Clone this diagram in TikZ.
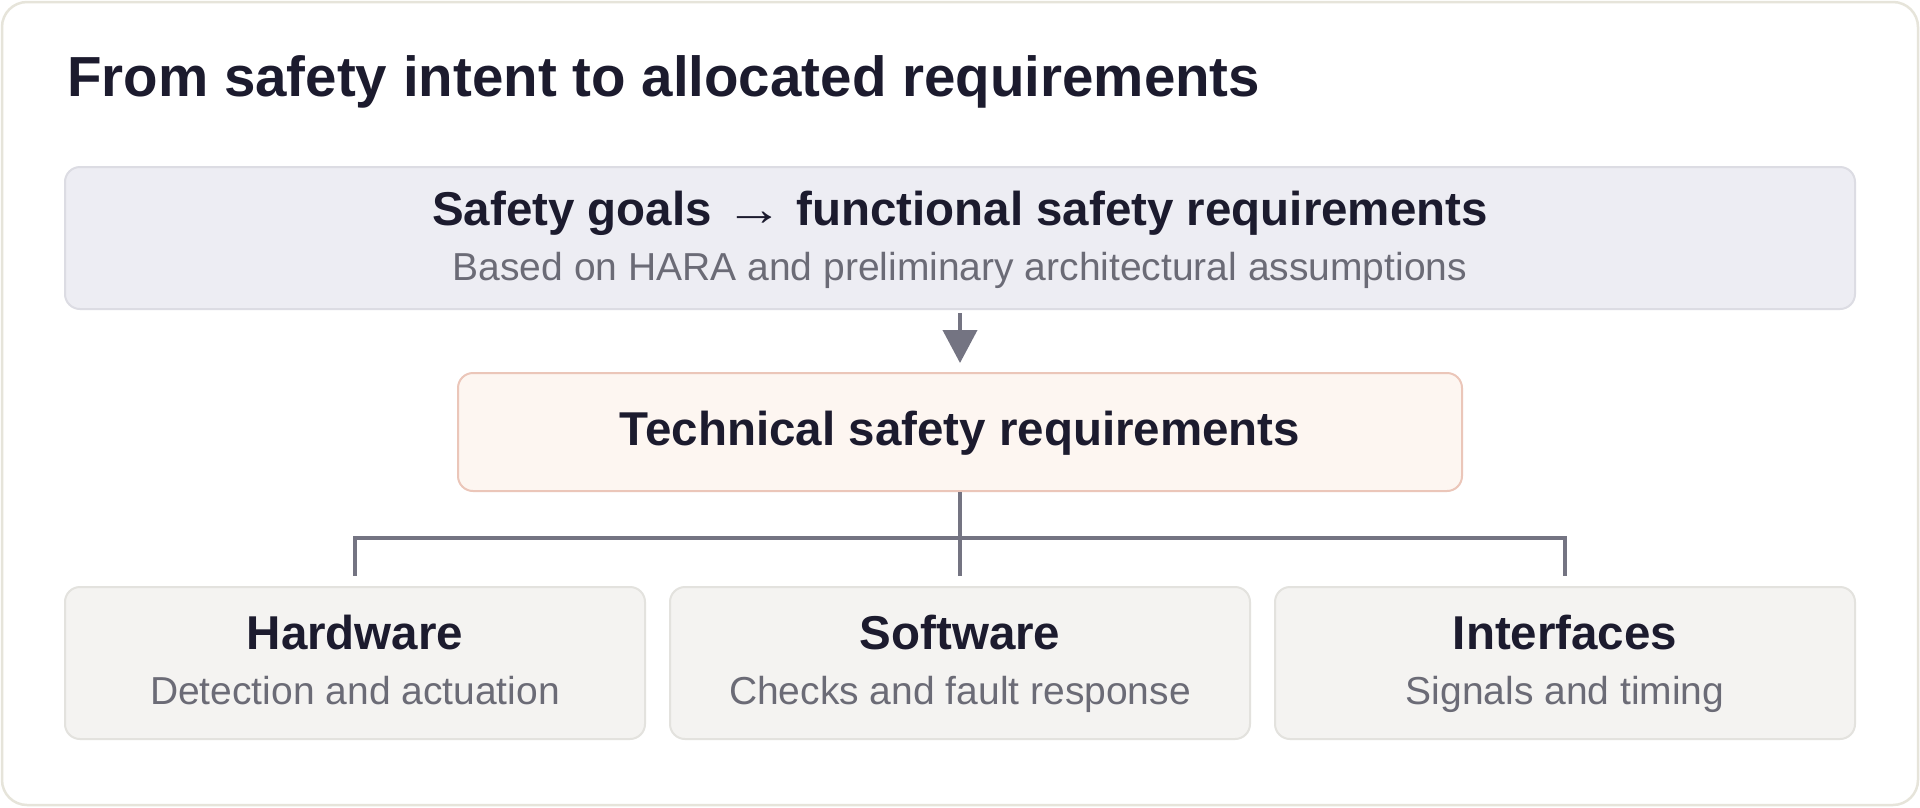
\documentclass[tikz,border=0pt]{standalone}
\usepackage{fontspec}
\setmainfont{Liberation Sans}
\usetikzlibrary{arrows.meta}
\definecolor{ink}{HTML}{1C1B2E}
\definecolor{sub}{HTML}{6B6B76}
\definecolor{frameB}{HTML}{E6E4DA}
\definecolor{topF}{HTML}{EDEDF3}
\definecolor{topB}{HTML}{DCDCE3}
\definecolor{midF}{HTML}{FDF6F1}
\definecolor{midB}{HTML}{EBC6B9}
\definecolor{botF}{HTML}{F4F3F1}
\definecolor{botB}{HTML}{E3E2DE}
\definecolor{conn}{HTML}{747482}
\tikzset{
  box/.style={draw, line width=2pt, rounded corners=15pt, inner sep=0pt, minimum width=#1},
  topbox/.style={box=1790pt, fill=topF, draw=topB, minimum height=142pt},
  midbox/.style={box=1004pt, fill=midF, draw=midB, minimum height=118pt},
  botbox/.style={box=580pt, fill=botF, draw=botB, minimum height=152pt},
  ttl/.style={anchor=base, inner sep=0pt, text=ink, font=\fontsize{47.5pt}{57pt}\selectfont\bfseries},
  subt/.style={anchor=base, inner sep=0pt, text=sub, font=\fontsize{39pt}{47pt}\selectfont},
  connector/.style={draw=conn, line width=4pt},
}
\begin{document}
\begin{tikzpicture}[x=1pt,y=-1pt]
\useasboundingbox (0,0) rectangle (1920,807);
\draw[draw=frameB, fill=white, line width=2.5pt, rounded corners=25pt] (2,2) rectangle (1918,805);
\node[anchor=base west, inner sep=0pt, text=ink, font=\fontsize{56.5pt}{68pt}\selectfont\bfseries] (title) at (67,96) {From safety intent to allocated requirements};
% boxes
\node[topbox] (top) at (960,238) {};
\node[midbox] (mid) at (960,432) {};
\node[botbox] (hw) at (355,663) {};
\node[botbox] (sw) at (960,663) {};
\node[botbox] (ifc) at (1565,663) {};
% texts
\node[ttl] (topT) at (960,225) {Safety goals {\mdseries\scalebox{1.22}[1]{→}} functional safety requirements};
\node[subt] (topS) at (960,280) {Based on HARA and preliminary architectural assumptions};
\node[ttl] (midT) at (960,445) {Technical safety requirements};
\node[ttl] (hwT) at (355,649) {Hardware};
\node[subt] (hwS) at (355,704) {Detection and actuation};
\node[ttl] (swT) at (960,649) {Software};
\node[subt] (swS) at (960,704) {Checks and fault response};
\node[ttl] (ifcT) at (1565,649) {Interfaces};
\node[subt] (ifcS) at (1565,704) {Signals and timing};
% connectors
\draw[connector, -{Triangle[length=33pt,width=34pt]}, shorten <=3pt, shorten >=9pt] (top.south) -- (mid.north);
\coordinate (bus) at (960,538);
\draw[connector, shorten >=10pt] (mid.south) -- (sw.north);
\draw[connector, shorten >=10pt] (bus) -| (hw.north);
\draw[connector, shorten >=10pt] (bus) -| (ifc.north);
\end{tikzpicture}
\end{document}
